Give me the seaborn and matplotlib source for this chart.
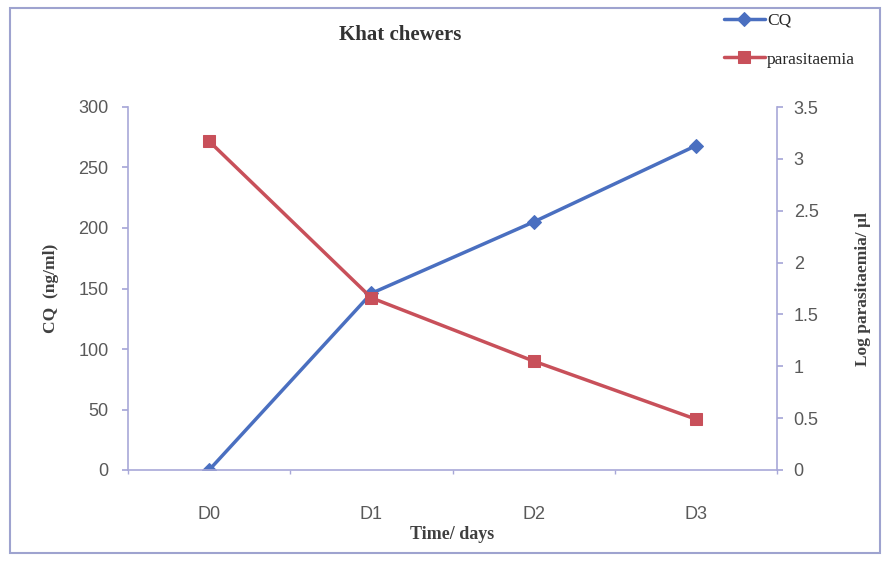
import matplotlib
matplotlib.use("Agg")
import matplotlib.pyplot as plt
import seaborn as sns
import pandas as pd
import numpy as np
from matplotlib.patches import Rectangle
from matplotlib.ticker import FixedLocator

days = ["D0", "D1", "D2", "D3"]
cq = [0, 146, 205, 268]
parasitaemia = [3.17, 1.66, 1.05, 0.49]

blue = "#4A6FC0"
red = "#C8505A"
axis_col = "#A8A8D8"
tick_col = "#595959"

sns.set_theme(style="white")
plt.rcParams['font.family'] = ['Liberation Sans', 'DejaVu Sans']

fig = plt.figure(figsize=(8.84, 5.63), dpi=100)
ax = fig.add_axes([128/884, 1-470/563, (777-128)/884, (470-107)/563])
ax2 = ax.twinx()

df = pd.DataFrame({"day": days, "CQ": cq, "parasitaemia": parasitaemia})
df["x"] = np.arange(len(days))

sns.lineplot(data=df, x="x", y="CQ", ax=ax, color=blue, marker="D", markersize=7,
             linewidth=2.5, markeredgecolor=blue, label="CQ", legend=False)
sns.lineplot(data=df, x="x", y="parasitaemia", ax=ax2, color=red, marker="s", markersize=8,
             linewidth=2.5, markeredgecolor=red, label="parasitaemia", legend=False)

ax.set_xlim(-0.5, 3.5)
ax.set_ylim(0, 300)
ax2.set_ylim(0, 3.5)
ax.set_yticks(range(0, 301, 50))
ax2.set_yticks(np.arange(0, 3.51, 0.5))
ax2.set_yticklabels(["0", "0.5", "1", "1.5", "2", "2.5", "3", "3.5"])
ax.set_xticks(range(len(days)))
ax.set_xticklabels(days)
ax.xaxis.set_minor_locator(FixedLocator(np.arange(-0.5, 3.6, 1.0)))

for a in (ax, ax2):
    for s in a.spines.values():
        s.set_visible(False)
ax.spines["left"].set_visible(True)
ax.spines["bottom"].set_visible(True)
ax2.spines["right"].set_visible(True)
for s in (ax.spines["left"], ax.spines["bottom"], ax2.spines["right"]):
    s.set_color(axis_col)
    s.set_linewidth(1.2)

ax.tick_params(axis="y", which="major", length=4, color=axis_col, labelsize=13,
               labelcolor=tick_col, pad=10, direction="out", left=True)
ax2.tick_params(axis="y", which="major", length=4, color=axis_col, labelsize=13,
                labelcolor=tick_col, pad=8, direction="out", right=True)
ax.tick_params(axis="x", which="major", length=0, labelsize=13, labelcolor=tick_col, pad=26)
ax.tick_params(axis="x", which="minor", length=3, color=axis_col, direction="out", bottom=True)

serif = ['Liberation Serif', 'DejaVu Serif']
ax.set_xlabel("Time/ days", family=serif, fontsize=13, fontweight="bold", color="#404040", labelpad=2)
ax.set_ylabel("CQ  (ng/ml)", family=serif, fontsize=12.5, fontweight="bold", color="#404040", labelpad=14)
ax2.set_ylabel("Log parasitaemia/ \u00b5l", family=serif, fontsize=12.5, fontweight="bold", color="#404040",
               labelpad=26)

fig.text(400/884, 1-35/563, "Khat chewers", family=serif, fontsize=15, fontweight="bold",
         color="#333333", ha="center", va="center")

h1, l1 = ax.get_legend_handles_labels()
h2, l2 = ax2.get_legend_handles_labels()
fig.legend(h1 + h2, l1 + l2, loc="upper left", bbox_to_anchor=(708/884, 1+3/563),
           frameon=False, prop={"family": serif, "size": 12.5}, labelspacing=1.3,
           handlelength=2.4, handletextpad=0.1)

fig.patches.append(Rectangle((10/884, 1-553/563), (880-10)/884, (553-8)/563,
                             transform=fig.transFigure, fill=False, edgecolor="#9EA3CF",
                             linewidth=1.5))

fig.savefig("out.png", dpi=100)
